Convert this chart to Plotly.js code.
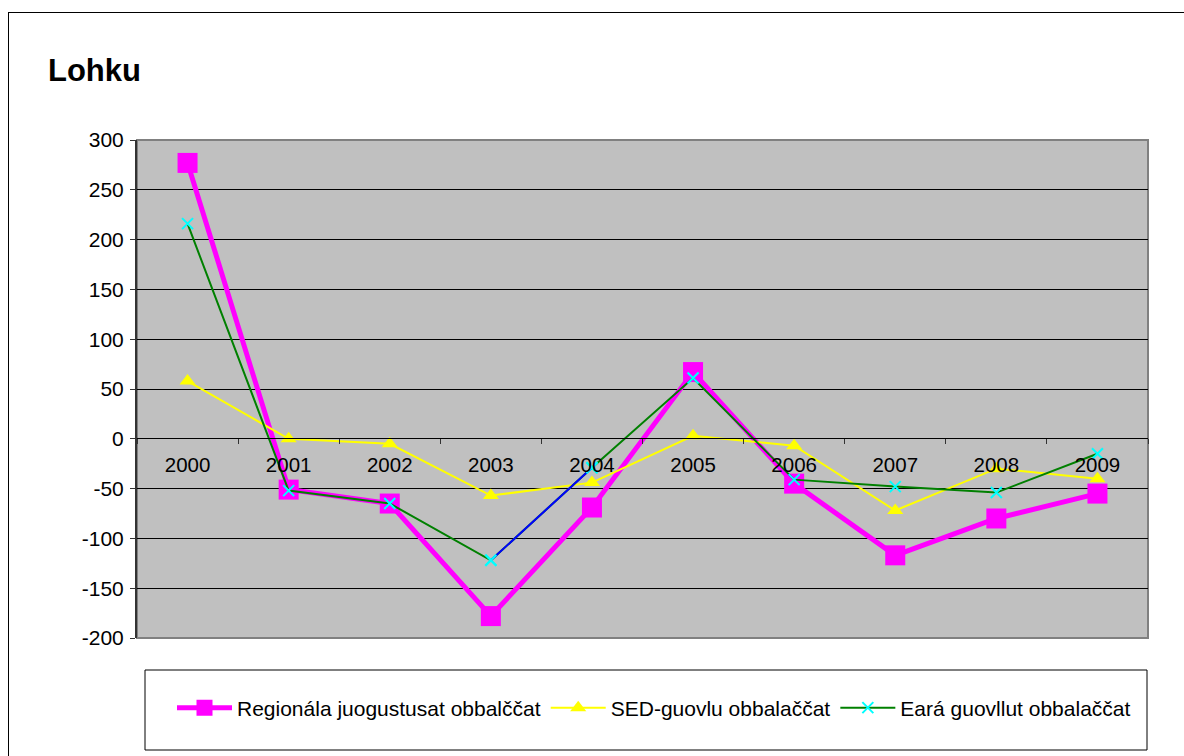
<!DOCTYPE html>
<html>
<head>
<meta charset="utf-8">
<script src="https://cdn.plot.ly/plotly-3.0.1.min.js"></script>
<style>
html,body{margin:0;padding:0;overflow:hidden;background:#fff;}
#chart{position:absolute;left:0;top:0;width:1184px;height:756px;}
#frame{position:absolute;left:8px;top:12px;width:1200px;height:800px;border:1px solid #000;pointer-events:none;}
</style>
</head>
<body>
<div id="chart"></div>
<div id="frame"></div>
<script>
const years = ['2000','2001','2002','2003','2004','2005','2006','2007','2008','2009'];
const regionala = [277, -51, -65, -178, -69, 67, -45, -117, -80, -55];
const sed = [58, 0, -5, -57, -44, 3, -7, -72, -30, -40];
const eara = [216, -52, -65, -122, -29, 61, -41, -48, -54, -15];
const seriesNames = ['Regionála juogustusat obbalččat', 'SED-guovlu obbalaččat', 'Eará guovllut obbalaččat'];
const yTickVals = [-200, -150, -100, -50, 0, 50, 100, 150, 200, 250, 300];
const yTickText = ['-200', '-150', '-100', '-50', '0', '50', '100', '150', '200', '250', '300'];

const FONT = 'Liberation Sans, Arial, sans-serif';

const traces = [
  {x: years, y: regionala, name: seriesNames[0], type: 'scatter', mode: 'lines+markers',
   line: {color: '#FF00FF', width: 5}, marker: {symbol: 'square', size: 20, color: '#FF00FF'}},
  {x: years, y: sed, name: seriesNames[1], type: 'scatter', mode: 'lines+markers',
   line: {color: '#FFFF00', width: 2}, marker: {symbol: 'triangle-up', size: 14, color: '#FFFF00'}},
  {x: years, y: eara, name: seriesNames[2], type: 'scatter', mode: 'lines+markers',
   line: {color: '#008000', width: 2}, marker: {symbol: 'x-thin', size: 11, color: '#00FFFF', line: {color: '#00FFFF', width: 2}}},
  {x: years.slice(3, 5), y: eara.slice(3, 5), type: 'scatter', mode: 'lines+markers', showlegend: false, hoverinfo: 'skip',
   line: {color: '#0000FF', width: 2}, marker: {symbol: 'x-thin', size: 11, color: '#00FFFF', line: {color: '#00FFFF', width: 2}}}
];

const layout = {
  width: 1184, height: 756,
  margin: {l: 137, r: 36, t: 140, b: 118},
  paper_bgcolor: '#FFFFFF',
  plot_bgcolor: '#C0C0C0',
  font: {family: FONT, size: 20, color: '#000'},
  title: {text: '<b>Lohku</b>', font: {family: FONT, size: 31, color: '#000'},
          x: 48/1184, xref: 'container', xanchor: 'left', y: 1 - 70/756, yref: 'container', yanchor: 'middle'},
  xaxis: {type: 'category', anchor: 'free', position: 200/498, showgrid: false, zeroline: false,
          showline: true, linecolor: '#000', linewidth: 1, ticks: 'outside', ticklen: 5, tickcolor: '#333',
          tickson: 'boundaries', ticklabelstandoff: 8, tickfont: {family: FONT, size: 20.5, color: '#000'},
          range: [-0.5, 9.5], fixedrange: true},
  yaxis: {range: [-200, 300], tickmode: 'array', tickvals: yTickVals, ticktext: yTickText, showgrid: true, gridcolor: '#000', gridwidth: 1,
          zeroline: false, showline: true, linecolor: '#333', linewidth: 2, ticks: 'outside', ticklen: 5,
          tickcolor: '#333', tickfont: {family: FONT, size: 21, color: '#000'}, ticklabelstandoff: 2},
  showlegend: true,
  legend: {orientation: 'h', x: (172-137)/1011, xanchor: 'left', y: (638-708)/498, yanchor: 'middle',
           font: {family: FONT, size: 21, color: '#000'}, itemwidth: 55, bgcolor: 'rgba(0,0,0,0)', borderwidth: 0},
  shapes: [
    {type: 'rect', xref: 'paper', yref: 'paper', x0: 0, x1: 1, y0: 0, y1: 1, line: {color: '#808080', width: 2}, fillcolor: 'rgba(0,0,0,0)', layer: 'below'},
    {type: 'rect', xref: 'paper', yref: 'paper', x0: (145-137)/1011, x1: (1147-137)/1011, y0: (638-750)/498, y1: (638-670)/498,
     line: {color: '#000', width: 1}, fillcolor: 'rgba(0,0,0,0)'}
  ]
};

Plotly.newPlot('chart', traces, layout, {displayModeBar: false, staticPlot: true});
</script>
</body>
</html>
